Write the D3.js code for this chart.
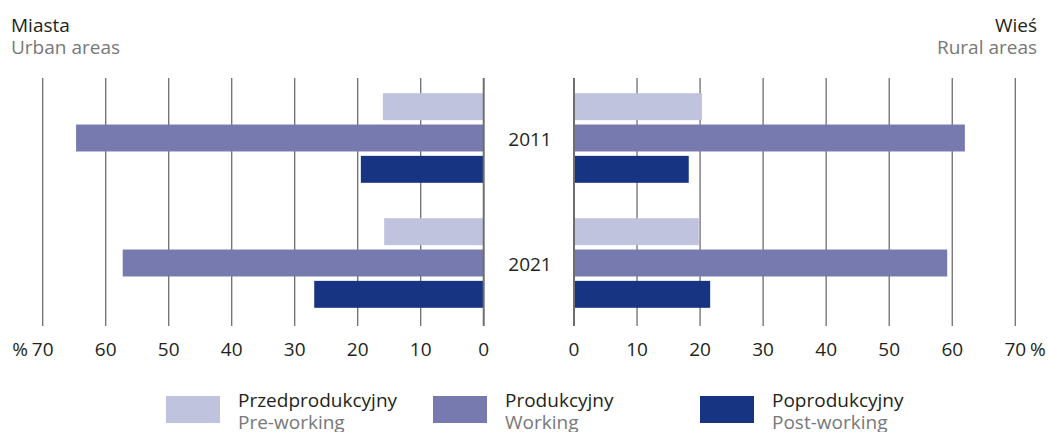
<!DOCTYPE html>
<html><head>
<meta charset="UTF-8">
<title>Miasta / Wieś</title>
<script src="https://cdn.jsdelivr.net/npm/d3@7"></script>
<style>
  body { margin: 0; background: #fff; }
  svg { display: block; font-family: "Open Sans", "Noto Sans", sans-serif; }
</style>
</head>
<body>
<svg id="chart" width="1048" height="432"></svg>
<script>
// data (% of population)
const years = ["2011", "2021"];
const seriesPl = ["Przedprodukcyjny", "Produkcyjny", "Poprodukcyjny"];
const seriesEn = ["Pre-working", "Working", "Post-working"];
const colors = ["#bfc3de", "#767aaf", "#163482"];
const urban = [[16.0, 64.7, 19.5], [15.8, 57.3, 26.9]];
const rural = [[20.3, 62.0, 18.2], [19.8, 59.2, 21.6]];
const ticks = [0, 10, 20, 30, 40, 50, 60, 70];

const svg = d3.select("#chart");
const dark = "#231f20", grey = "#77787b", gridColor = "#6d6e71";

const xL = d3.scaleLinear().domain([0, 70]).range([483.7, 42.7]);
const xR = d3.scaleLinear().domain([0, 70]).range([574, 1015.3]);
const y = d3.scaleBand().domain(years).range([75.5, 325.5]);
const yInner = d3.scaleBand().domain(d3.range(3)).range([-47, 47]).paddingInner(0.14).paddingOuter(0.07);

const gridTop = 78, gridBottom = 326;

// gridlines
[xL, xR].forEach(x => {
  svg.append("g").selectAll("line")
    .data(ticks.filter(t => t > 0))
    .enter().append("line")
    .attr("x1", d => x(d)).attr("x2", d => x(d))
    .attr("y1", gridTop).attr("y2", gridBottom)
    .attr("stroke", gridColor).attr("stroke-width", 1.3);
});

// bars
function drawBars(data, x, left) {
  years.forEach((yr, gi) => {
    const c = y(yr) + y.bandwidth() / 2;
    svg.append("g").selectAll("rect")
      .data(data[gi])
      .enter().append("rect")
      .attr("x", d => left ? x(d) : x(0))
      .attr("width", d => Math.abs(x(d) - x(0)))
      .attr("y", (d, i) => c + yInner(i))
      .attr("height", yInner.bandwidth())
      .attr("fill", (d, i) => colors[i]);
  });
}
drawBars(urban, xL, true);
drawBars(rural, xR, false);

// zero lines
[xL, xR].forEach(x => {
  svg.append("line")
    .attr("x1", x(0)).attr("x2", x(0))
    .attr("y1", gridTop).attr("y2", gridBottom)
    .attr("stroke", gridColor).attr("stroke-width", 2);
});

// year labels
svg.append("g").selectAll("text")
  .data(years)
  .enter().append("text")
  .attr("x", 530)
  .attr("y", d => y(d) + y.bandwidth() / 2 + 8)
  .attr("text-anchor", "middle")
  .attr("font-size", 19).attr("fill", dark)
  .text(d => d);

// tick labels
[xL, xR].forEach(x => {
  svg.append("g").selectAll("text")
    .data(ticks)
    .enter().append("text")
    .attr("x", d => x(d))
    .attr("y", 356)
    .attr("text-anchor", "middle")
    .attr("font-size", 19).attr("fill", dark)
    .text(d => d);
});
svg.append("text").attr("x", 28).attr("y", 356).attr("text-anchor", "end")
  .attr("font-size", 19).attr("fill", dark).text("%");
svg.append("text").attr("x", 1030).attr("y", 356).attr("text-anchor", "start")
  .attr("font-size", 19).attr("fill", dark).text("%");

// titles
svg.append("text").attr("x", 11).attr("y", 32).attr("font-size", 19).attr("fill", dark).text("Miasta");
svg.append("text").attr("x", 11).attr("y", 54).attr("font-size", 19).attr("fill", grey).text("Urban areas");
svg.append("text").attr("x", 1037).attr("y", 32).attr("text-anchor", "end").attr("font-size", 19).attr("fill", dark).text("Wieś");
svg.append("text").attr("x", 1037).attr("y", 54).attr("text-anchor", "end").attr("font-size", 19).attr("fill", grey).text("Rural areas");

// legend
const legendX = [166, 433, 700];
const lg = svg.append("g").selectAll("g")
  .data(seriesPl)
  .enter().append("g")
  .attr("transform", (d, i) => `translate(${legendX[i]},396)`);
lg.append("rect").attr("width", 54).attr("height", 27).attr("fill", (d, i) => colors[i]);
lg.append("text").attr("x", 72).attr("y", 11).attr("font-size", 19).attr("fill", dark).text(d => d);
lg.append("text").attr("x", 72).attr("y", 33).attr("font-size", 19).attr("fill", grey).text((d, i) => seriesEn[i]);
</script>
</body>
</html>
